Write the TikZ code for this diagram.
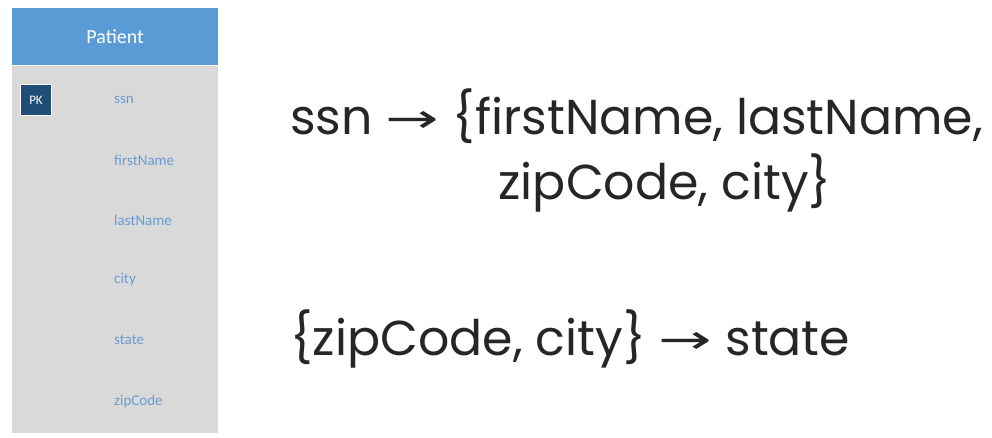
\documentclass[tikz,border=0pt]{standalone}
\usepackage{fontspec}
\setmainfont{Carlito}
\newfontfamily\gfont{Poppins}
\newfontfamily\afont{DejaVu Sans}
\newcommand{\myarr}{{\afont\fontsize{40}{48}\selectfont\raisebox{2pt}{\scalebox{1.6}[1]{→}}}}
\definecolor{hdr}{HTML}{5B9BD5}
\definecolor{body}{HTML}{D9D9D9}
\definecolor{pk}{HTML}{1F4E79}
\definecolor{attr}{HTML}{6A9BD1}
\definecolor{txt}{HTML}{262626}
\begin{document}
\begin{tikzpicture}[x=1pt,y=-1pt,
  attrs/.style={anchor=west,text=attr,font=\fontsize{15}{17}\selectfont,inner sep=0pt},
  big/.style={anchor=base west,text=txt,font=\gfont\fontsize{49}{58}\selectfont,inner sep=0pt}]
\useasboundingbox (0,0) rectangle (992,438);
\fill[white] (0,0) rectangle (992,438);
\node[fill=hdr,minimum width=206pt,minimum height=57pt,anchor=north west,inner sep=0pt,text=white,font=\fontsize{20}{24}\selectfont] (hd) at (12,8) {Patient};
\node[fill=body,minimum width=206pt,minimum height=367pt,anchor=north west,inner sep=0pt] (bd) at (12,66) {};
\node[fill=pk,draw=white,line width=1.5pt,minimum size=31pt,inner sep=0pt,text=white,font=\fontsize{13}{15}\selectfont] (pkb) at (36,100) {PK};
\node[attrs] (a1) at (114,100) {ssn};
\node[attrs] (a2) at (114,160) {firstName};
\node[attrs] (a3) at (114,220) {lastName};
\node[attrs] (a4) at (114,280) {city};
\node[attrs] (a5) at (114,340) {state};
\node[attrs] (a6) at (114,401) {zipCode};
\node[big] (l1) at (290,135) {ssn \myarr{} \{firstName, lastName,};
\node[big,anchor=base] (l2) at (665,200) {zipCode, city\}};
\node[big] (l3) at (290,355) {\{zipCode, city\} \myarr{} state};
\end{tikzpicture}
\end{document}
